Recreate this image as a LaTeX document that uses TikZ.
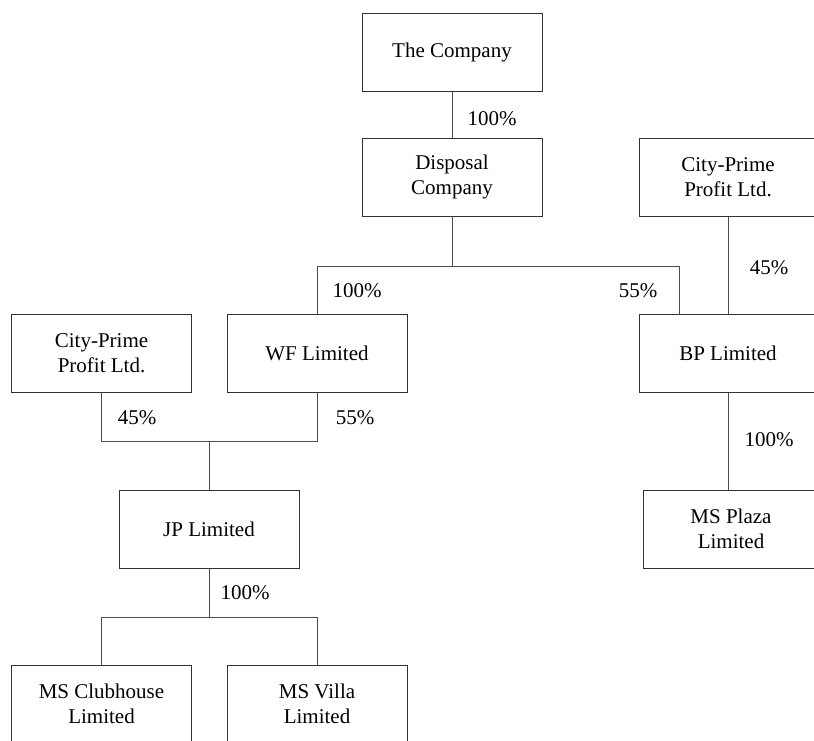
\documentclass[tikz,border=0pt]{standalone}
\usepackage{fontspec}
\setmainfont{Liberation Serif}
\begin{document}
\begin{tikzpicture}[x=1pt,y=-1pt,
  line width=1pt,
  box/.style={draw=black!80, line width=1pt, minimum width=180pt, minimum height=78pt,
    inner sep=0pt, align=center, font=\fontsize{21}{25}\selectfont},
  rbox/.style={box, draw=none},
  frame/.style={draw=black!80, line width=1pt},
  pct/.style={font=\fontsize{21}{25}\selectfont, inner sep=0pt},
  conn/.style={draw=black!70, line width=1pt}]
\useasboundingbox (0,0) rectangle (814,740);
% nodes
\node[box] (tc)  at (452,52)   {The Company};
\node[box] (dc)  at (452,177)  {Disposal\\Company};
\node[rbox] (cpr) at (728,177.5){City-Prime\\Profit Ltd.};
\node[box] (cpl) at (101.5,353.5){City-Prime\\Profit Ltd.};
\node[box] (wf)  at (317,353.5){WF Limited};
\node[rbox] (bp)  at (728,353.5){BP Limited};
\node[box] (jp)  at (209,529)  {JP Limited};
\node[rbox] (mp)  at (731,529)  {MS Plaza\\Limited};
\node[box] (mc)  at (101.5,704){MS Clubhouse\\Limited};
\node[box] (mv)  at (317,704)  {MS Villa\\Limited};
% frames of the boxes cut by the right edge
\draw[frame] ([shift={(-89,-39)}]cpr.center) rectangle ([shift={(110,39)}]cpr.center);
\draw[frame] ([shift={(-89,-39)}]bp.center) rectangle ([shift={(110,39)}]bp.center);
\draw[frame] ([shift={(-88,-39)}]mp.center) rectangle ([shift={(110,39)}]mp.center);
% helper coordinates
\coordinate (h1) at (0,266);
\coordinate (j1) at (0,441);
\coordinate (b1) at (0,617);
\coordinate (bpl) at (679,314.5);
% connectors
\draw[conn] (tc.south) -- (dc.north);
\draw[conn] (dc.south) -- (dc.south |- h1);
\draw[conn] (wf.north) |- (bpl |- h1) -- (bpl);
\draw[conn] (cpr.south) -- (bp.north);
\draw[conn] (bp.south) -- (bp.south |- mp.north);
\draw[conn] (cpl.south) |- (wf.south |- j1) -- (wf.south);
\draw[conn] (jp.north) -- (jp.north |- j1);
\draw[conn] (jp.south) -- (jp.south |- b1);
\draw[conn] (mc.north) |- (mv.north |- b1) -- (mv.north);
% labels
\node[pct] (l1) at (492,119) {100\%};
\node[pct] (l2) at (357,291) {100\%};
\node[pct] (l3) at (638,291) {55\%};
\node[pct] (l4) at (769,268) {45\%};
\node[pct] (l5) at (137,418) {45\%};
\node[pct] (l6) at (355,418) {55\%};
\node[pct] (l7) at (769,440) {100\%};
\node[pct] (l8) at (245,593) {100\%};
\end{tikzpicture}
\end{document}
